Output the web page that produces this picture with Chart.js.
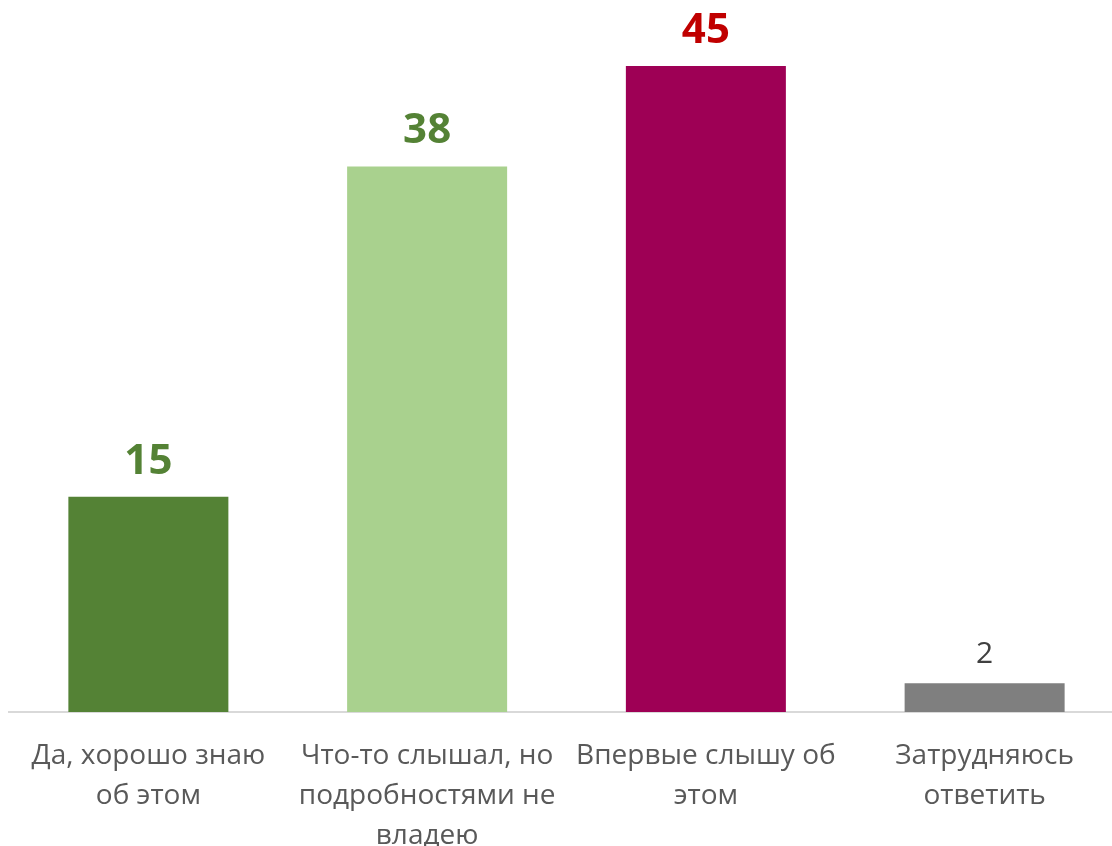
<!DOCTYPE html>
<html>
<head>
<meta charset="utf-8">
<script src="https://cdn.jsdelivr.net/npm/chart.js@4/dist/chart.umd.min.js"></script>
<style>
  html, body { margin: 0; padding: 0; background: #fff; overflow: hidden; }
  #wrap { width: 1124px; height: 846px; position: relative; }
</style>
</head>
<body>
<div id="wrap"><canvas id="barChart"></canvas></div>
<script>
const categories = [
  ['Да, хорошо знаю', 'об этом'],
  ['Что-то слышал, но', 'подробностями не', 'владею'],
  ['Впервые слышу об', 'этом'],
  ['Затрудняюсь', 'ответить']
];
const values = [15, 38, 45, 2];
const barColors = ['#548235', '#A9D18E', '#9E0055', '#7F7F7F'];
const labelColors = ['#548235', '#548235', '#C00000', '#404040'];
const labelBold = [true, true, true, false];

// подписи значений над столбцами
const valueLabels = {
  id: 'valueLabels',
  afterDatasetsDraw(chart) {
    const ctx = chart.ctx;
    const meta = chart.getDatasetMeta(0);
    ctx.save();
    ctx.textAlign = 'center';
    ctx.textBaseline = 'alphabetic';
    meta.data.forEach((bar, i) => {
      ctx.fillStyle = labelColors[i];
      ctx.font = labelBold[i] ? 'bold 42px "Open Sans"' : '30px "Open Sans"';
      ctx.fillText(values[i], bar.x, bar.y - (labelBold[i] ? 23 : 20));
    });
    ctx.restore();
  }
};

const ctx = document.getElementById('barChart').getContext('2d');
const barChart = new Chart(ctx, {
  type: 'bar',
  data: {
    labels: categories,
    datasets: [{
      data: values,
      backgroundColor: barColors,
      barPercentage: 0.574,
      categoryPercentage: 1
    }]
  },
  options: {
    responsive: true,
    maintainAspectRatio: false,
    animation: false,
    layout: { padding: { top: 66, left: 9, right: 0, bottom: 0 } },
    plugins: {
      legend: { display: false },
      tooltip: { enabled: false }
    },
    scales: {
      x: {
        grid: { display: false, drawTicks: false },
        border: { color: '#D9D9D9', width: 2 },
        ticks: {
          color: '#595959',
          font: { family: 'Open Sans', size: 28, lineHeight: 1.43 },
          padding: 24,
          maxRotation: 0,
          autoSkip: false
        },
        afterFit(scale) { scale.height = 134; }
      },
      y: {
        display: false,
        min: 0,
        max: 45
      }
    }
  },
  plugins: [valueLabels]
});
</script>
</body>
</html>
